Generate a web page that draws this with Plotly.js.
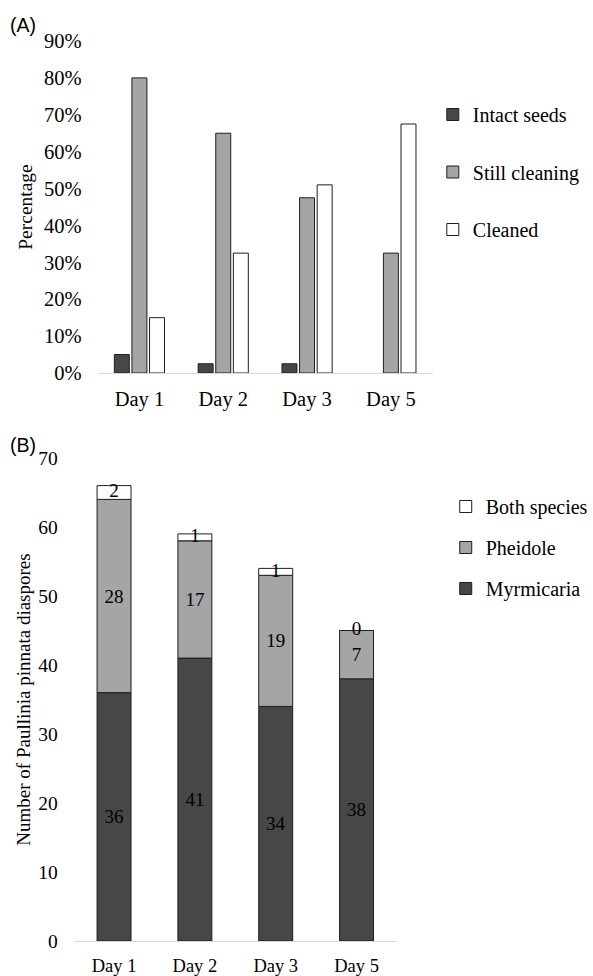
<!DOCTYPE html>
<html>
<head>
<meta charset="utf-8">
<script src="https://cdn.plot.ly/plotly-3.0.1.min.js"></script>
<style>html,body{margin:0;padding:0;background:#fff;}#chart{width:593px;height:976px;}</style>
</head>
<body>
<div id="chart"></div>
<script>
// Panel A data (fractions)
const daysA = ['Day 1', 'Day 2', 'Day 3', 'Day 5'];
const intactSeeds = [0.05, 0.025, 0.025, null];
const stillCleaning = [0.80, 0.65, 0.475, 0.325];
const cleaned = [0.15, 0.325, 0.51, 0.675];

// Panel B data (counts)
const daysB = ['Day 1', 'Day 2', 'Day 3', 'Day 5'];
const myrmicaria = [36, 41, 34, 38];
const pheidole = [28, 17, 19, 7];
const bothSpecies = [2, 1, 1, 0];

const serif = 'Liberation Serif';
const dark = '#474747', mid = '#a5a5a5', white = '#ffffff', edge = '#1e1e1e';
const inTxt = {family:serif, size:19, color:'#000'};

// stacking bases derived from the data
const baseP = myrmicaria.slice();
const baseB = myrmicaria.map((v,i)=>v+pheidole[i]);
const bothMid = baseB.map((v,i)=>v+bothSpecies[i]/2);
const wB = 0.42;

const traces = [
  {type:'bar', name:'Intact seeds', x:daysA, y:intactSeeds, xaxis:'x', yaxis:'y',
   marker:{color:dark, line:{color:edge, width:1}}, legend:'legend', legendgroup:'a1'},
  {type:'bar', name:'Still cleaning', x:daysA, y:stillCleaning, xaxis:'x', yaxis:'y',
   marker:{color:mid, line:{color:edge, width:1}}, legend:'legend', legendgroup:'a2'},
  {type:'bar', name:'Cleaned', x:daysA, y:cleaned, xaxis:'x', yaxis:'y',
   marker:{color:white, line:{color:edge, width:1}}, legend:'legend', legendgroup:'a3'},
  {type:'bar', name:'Myrmicaria', x:daysB, y:myrmicaria, xaxis:'x2', yaxis:'y2', offsetgroup:'stk', width:wB,
   marker:{color:dark, line:{color:edge, width:1}}, legend:'legend2', legendgroup:'b1', legendrank:3,
   texttemplate:'%{y}', textposition:'inside', insidetextanchor:'middle', constraintext:'none', textangle:0,
   textfont:inTxt, insidetextfont:inTxt},
  {type:'bar', name:'Pheidole', x:daysB, y:pheidole, base:baseP, xaxis:'x2', yaxis:'y2', offsetgroup:'stk', width:wB,
   marker:{color:mid, line:{color:edge, width:1}}, legend:'legend2', legendgroup:'b2', legendrank:2,
   texttemplate:'%{y}', textposition:'inside', insidetextanchor:'middle', constraintext:'none', textangle:0,
   textfont:inTxt, insidetextfont:inTxt},
  {type:'bar', name:'Both species', x:daysB, y:bothSpecies, base:baseB, xaxis:'x2', yaxis:'y2', offsetgroup:'stk', width:wB,
   marker:{color:white, line:{color:edge, width:1}}, legend:'legend2', legendgroup:'b3', legendrank:1, textposition:'none'},
  {type:'scatter', mode:'text', x:daysB, y:bothMid, text:bothSpecies.map(String), xaxis:'x2', yaxis:'y2',
   textfont:inTxt, textposition:'middle center', showlegend:false, hoverinfo:'skip'}
];

const H = 976, W = 593;
const layout = {
  width: W, height: H,
  margin:{l:0, r:0, t:0, b:0},
  paper_bgcolor:'#fff', plot_bgcolor:'#fff',
  font:{family:serif, size:19, color:'#000'},
  barmode:'group',
  bargap:0.37, bargroupgap:0.15,
  showlegend:true,
  xaxis:{domain:[98/W, 435/W], anchor:'y', type:'category', showline:true, linecolor:'#d9d9d9', linewidth:1,
         ticks:'', ticklabelstandoff:7, showgrid:false, zeroline:false, tickfont:{family:serif, size:20.5}},
  yaxis:{domain:[1-373/H, 1-41/H], anchor:'x', range:[0,0.9], dtick:0.1, tickformat:'.0%',
         showline:false, showgrid:false, zeroline:false, ticks:'', ticklabelstandoff:15, tickfont:{family:serif, size:20.5},
         title:{text:'Percentage', font:{family:serif, size:19.5}, standoff:6}},
  xaxis2:{domain:[74/W, 399/W], anchor:'y2', type:'category', showline:true, linecolor:'#d9d9d9', linewidth:1,
         ticks:'', ticklabelstandoff:8, showgrid:false, zeroline:false, tickfont:{family:serif, size:18.5}},
  yaxis2:{domain:[1-941/H, 1-458/H], anchor:'x2', range:[0,70], dtick:10,
         showline:false, showgrid:false, zeroline:false, ticks:'', ticklabelstandoff:15, tickfont:{family:serif, size:19.5},
         title:{text:'Number of Paullinia pinnata diaspores', font:{family:serif, size:19}, standoff:2}},
  legend:{x:435/W, y:1-95/H, xanchor:'left', yanchor:'top', traceorder:'grouped', tracegroupgap:28.5,
          font:{family:serif, size:20}, bgcolor:'rgba(0,0,0,0)', itemwidth:30},
  legend2:{x:448/W, y:1-487/H, xanchor:'left', yanchor:'top', traceorder:'grouped', tracegroupgap:12,
          font:{family:serif, size:20}, bgcolor:'rgba(0,0,0,0)', itemwidth:30},
  annotations:[
    {text:'(A)', xref:'paper', yref:'paper', x:8/W, y:1-25/H, xanchor:'left', yanchor:'middle', showarrow:false,
     font:{family:'Liberation Sans', size:19.5}},
    {text:'(B)', xref:'paper', yref:'paper', x:8/W, y:1-445/H, xanchor:'left', yanchor:'middle', showarrow:false,
     font:{family:'Liberation Sans', size:19.5}}
  ]
};

Plotly.newPlot('chart', traces, layout, {displayModeBar:false, staticPlot:true});
</script>
</body>
</html>
